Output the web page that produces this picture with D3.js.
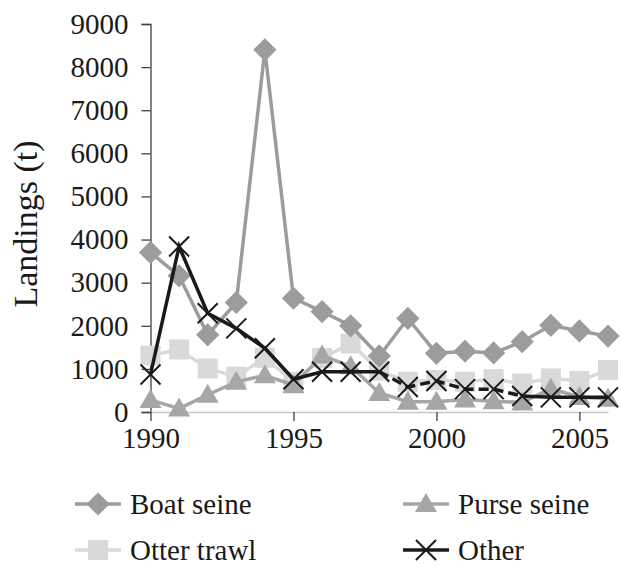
<!DOCTYPE html>
<html><head><meta charset="utf-8">
<script src="https://cdn.jsdelivr.net/npm/d3@7/dist/d3.min.js"></script>
<style>body{margin:0;background:#fff}svg{display:block}</style>
</head><body><svg id="c" width="621" height="565"></svg>
<script>
const years = [1990,1991,1992,1993,1994,1995,1996,1997,1998,1999,2000,2001,2002,2003,2004,2005,2006];
const boatSeine = [3700,3160,1790,2540,8400,2640,2330,2000,1300,2170,1360,1410,1370,1630,2010,1880,1760];
const purseSeine = [280,80,400,700,850,620,1310,1060,440,240,240,290,250,220,540,350,310];
const otterTrawl = [1310,1450,1010,820,1260,700,1250,1590,960,700,740,700,760,660,780,720,975];
const other = [870,3840,2290,1940,1480,760,935,935,935,580,720,530,530,370,340,340,340];
const otherDashedFrom = 1998, otherDashedTo = 2003;
const yTicks = [0,1000,2000,3000,4000,5000,6000,7000,8000,9000];
const xTicks = [1990,1995,2000,2005];
const yLabel = "Landings (t)";

const FONT = "'Liberation Serif', Tinos, 'Times New Roman', Times, 'DejaVu Serif', 'Noto Serif', serif";
const svg = d3.select("#c").style("font-family", FONT);
const x = d3.scaleLinear().domain([1990,2006]).range([150.5,608]);
const y = d3.scaleLinear().domain([0,9000]).range([412,24]);

// y axis
const ya = svg.append("g").attr("transform","translate(150.5,0)")
  .call(d3.axisLeft(y).tickValues(yTicks).tickSize(9).tickPadding(13).tickFormat(d3.format("d")));
ya.attr("font-family", null).attr("font-size", null);
ya.select(".domain").attr("stroke","#404040").attr("stroke-width",1.3);
ya.selectAll(".tick line").attr("stroke","#404040").attr("stroke-width",1.3);
ya.selectAll("text").style("font-family",FONT).style("font-size","29px").attr("fill","#1a1a1a");

// x axis
const xa = svg.append("g").attr("transform","translate(0,412)")
  .call(d3.axisBottom(x).tickValues(xTicks).tickSize(9).tickPadding(6).tickSizeOuter(0).tickFormat(d3.format("d")));
xa.attr("font-family", null).attr("font-size", null);
xa.select(".domain").attr("stroke","#c8c8c8").attr("stroke-width",1.3);
xa.selectAll(".tick line").attr("stroke","#404040").attr("stroke-width",1.3);
xa.selectAll("text").style("font-family",FONT).style("font-size","29px").attr("fill","#1a1a1a");

svg.append("text").attr("transform","translate(37,224) rotate(-90)")
  .attr("text-anchor","middle").style("font-family",FONT).style("font-size","34px").attr("fill","#1a1a1a").text(yLabel);

const line = d3.line().x(d=>x(d.x)).y(d=>y(d.y));
const pts = arr => years.map((yr,i)=>({x:yr,y:arr[i]}));

function marker(g, type, color, cx, cy){
  if(type==="diamond"){
    g.append("path").attr("d",d3.symbol(d3.symbolSquare,270)()).attr("fill",color)
     .attr("transform",`translate(${cx},${cy}) rotate(45)`);
  } else if(type==="square"){
    g.append("rect").attr("x",cx-10).attr("y",cy-10).attr("width",20).attr("height",20).attr("fill",color);
  } else if(type==="triangle"){
    g.append("path").attr("d",`M${cx},${cy-11}L${cx+11},${cy+8}L${cx-11},${cy+8}Z`).attr("fill",color);
  } else if(type==="x"){
    g.append("path").attr("d",`M${cx-10},${cy-10}L${cx+10},${cy+10}M${cx-10},${cy+10}L${cx+10},${cy-10}`)
     .attr("stroke",color).attr("stroke-width",2).attr("fill","none");
  }
}

const series = [
  {name:"Otter trawl", data:otterTrawl, color:"#d9d9d9", mk:"square"},
  {name:"Boat seine", data:boatSeine, color:"#9c9c9c", mk:"diamond"},
  {name:"Purse seine", data:purseSeine, color:"#a6a6a6", mk:"triangle"},
  {name:"Other", data:other, color:"#1a1a1a", mk:"x"}
];

series.forEach(s=>{
  const g = svg.append("g");
  const p = pts(s.data);
  if(s.name==="Other"){
    const a = p.filter(d=>d.x<=otherDashedFrom), b = p.filter(d=>d.x>=otherDashedFrom&&d.x<=otherDashedTo), c = p.filter(d=>d.x>=otherDashedTo);
    g.append("path").attr("d",line(a)).attr("fill","none").attr("stroke",s.color).attr("stroke-width",3.5);
    g.append("path").attr("d",line(b)).attr("fill","none").attr("stroke",s.color).attr("stroke-width",3.5).attr("stroke-dasharray","10,5");
    g.append("path").attr("d",line(c)).attr("fill","none").attr("stroke",s.color).attr("stroke-width",3.5);
  } else {
    g.append("path").attr("d",line(p)).attr("fill","none").attr("stroke",s.color).attr("stroke-width",3.5);
  }
  p.forEach(d=>marker(g,s.mk,s.color,x(d.x),y(d.y)));
});

// legend
const legend = [
  {name:"Boat seine", color:"#9c9c9c", mk:"diamond", lx:75, ly:504},
  {name:"Purse seine", color:"#a6a6a6", mk:"triangle", lx:403, ly:504},
  {name:"Otter trawl", color:"#d9d9d9", mk:"square", lx:75, ly:550},
  {name:"Other", color:"#1a1a1a", mk:"x", lx:403, ly:550}
];
legend.forEach(l=>{
  const g = svg.append("g");
  g.append("line").attr("x1",l.lx).attr("x2",l.lx+46).attr("y1",l.ly).attr("y2",l.ly)
   .attr("stroke",l.color).attr("stroke-width",3.5);
  marker(g,l.mk,l.color,l.lx+23,l.ly);
  g.append("text").attr("x",l.lx+55).attr("y",l.ly+10).style("font-family",FONT).style("font-size","29px").attr("fill","#1a1a1a").text(l.name);
});
</script></body></html>
